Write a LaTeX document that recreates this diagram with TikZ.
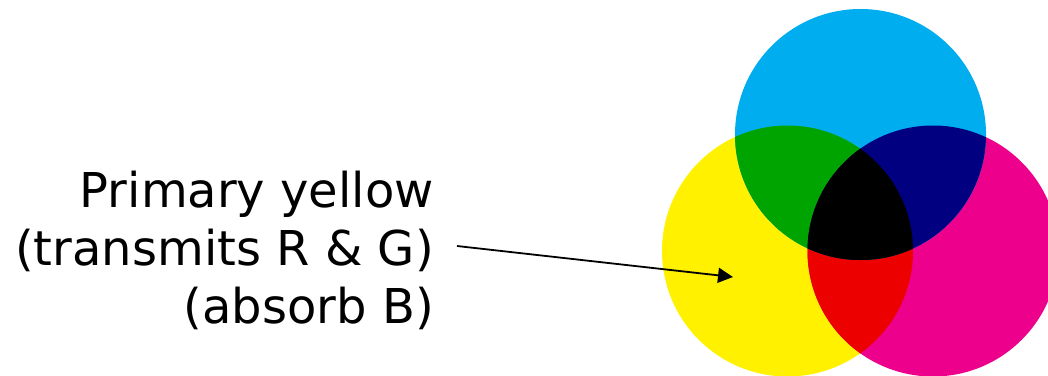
\documentclass[tikz,border=0pt]{standalone}
\usepackage{fontspec}
\setmainfont{DejaVu Sans}
\usetikzlibrary{arrows.meta}
\definecolor{cyanink}{RGB}{0,174,239}
\definecolor{yellowink}{RGB}{255,241,0}
\definecolor{magentaink}{RGB}{236,0,140}
\definecolor{greenmix}{RGB}{0,164,0}
\definecolor{bluemix}{RGB}{0,0,128}
\definecolor{redmix}{RGB}{237,0,0}
\tikzset{
  label line/.style={anchor=base east, inner sep=0pt, font=\fontsize{48}{58}\selectfont},
  pointer/.style={draw=black, line width=1.8pt, -{Triangle[length=15pt,width=15pt]}}
}
\begin{document}
\begin{tikzpicture}[x=1pt,y=-1pt]
  \useasboundingbox (0,0) rectangle (1048,375);
  \fill[white] (0,0) rectangle (1048,375);

  % centres of the three filters
  \coordinate (C) at (860.5,134.5);
  \coordinate (Y) at (787.5,251);
  \coordinate (M) at (933,251);
  \def\rr{125.5pt}

  % single filters
  \fill[yellowink]  (Y) circle[radius=\rr];
  \fill[magentaink] (M) circle[radius=\rr];
  \fill[cyanink]    (C) circle[radius=\rr];

  % yellow + magenta = red
  \begin{scope}
    \clip (Y) circle[radius=\rr];
    \fill[redmix] (M) circle[radius=\rr];
  \end{scope}
  % cyan + yellow = green, cyan + magenta = blue, all three = black
  \begin{scope}
    \clip (C) circle[radius=\rr];
    \fill[greenmix] (Y) circle[radius=\rr];
    \fill[bluemix]  (M) circle[radius=\rr];
    \clip (Y) circle[radius=\rr];
    \fill[black] (M) circle[radius=\rr];
  \end{scope}

  % caption
  \node[label line] (l1) at (434,207) {Primary yellow};
  \node[label line] (l2) at (434,265) {(transmits R \& G)};
  \node[label line] (l3) at (434,323) {(absorb B)};

  % pointer into the yellow filter
  \coordinate (tail) at (457,246);
  \coordinate (tip) at (733,277);
  \draw[pointer] (tail) -- (tip);
\end{tikzpicture}
\end{document}
